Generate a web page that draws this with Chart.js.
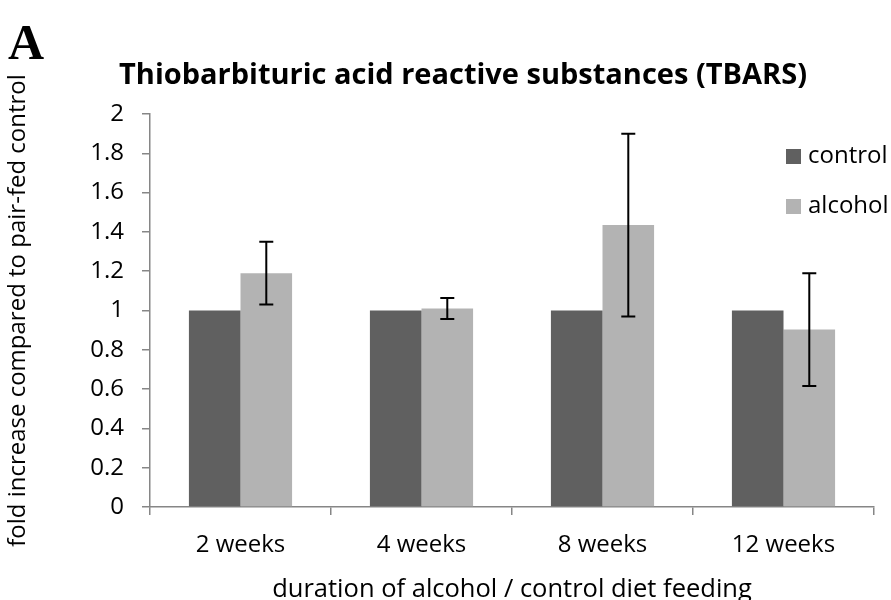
<!DOCTYPE html>
<html>
<head>
<meta charset="utf-8">
<script src="https://cdn.jsdelivr.net/npm/chart.js@4.4.0/dist/chart.umd.min.js"></script>
<style>
  html, body { margin: 0; padding: 0; background: #ffffff; }
  #wrap { width: 891px; height: 600px; position: relative; }
</style>
</head>
<body>
<div id="wrap"><canvas id="c" width="891" height="600"></canvas></div>
<script>
const categories = ['2 weeks', '4 weeks', '8 weeks', '12 weeks'];
const controlValues = [1, 1, 1, 1];
const alcoholValues = [1.19, 1.01, 1.435, 0.903];
const alcoholErrors = [0.16, 0.053, 0.465, 0.287];
const yTickLabels = ['0', '0.2', '0.4', '0.6', '0.8', '1', '1.2', '1.4', '1.6', '1.8', '2'];
const seriesNames = ['control', 'alcohol'];
const seriesColors = ['#606060', '#b3b3b3'];

const FONT = "'Open Sans', 'DejaVu Sans', sans-serif";
const AXIS_COLOR = '#868686';

const errorBarPlugin = {
  id: 'errorBars',
  afterDatasetsDraw(chart) {
    const ctx = chart.ctx;
    const meta = chart.getDatasetMeta(1);
    const ys = chart.scales.y;
    ctx.save();
    ctx.strokeStyle = '#000000';
    ctx.lineWidth = 2;
    meta.data.forEach((bar, i) => {
      const v = alcoholValues[i], e = alcoholErrors[i];
      const yTop = ys.getPixelForValue(v + e);
      const yBot = ys.getPixelForValue(v - e);
      const x = bar.x;
      ctx.beginPath();
      ctx.moveTo(x, yTop); ctx.lineTo(x, yBot);
      ctx.moveTo(x - 7, yTop); ctx.lineTo(x + 7, yTop);
      ctx.moveTo(x - 7, yBot); ctx.lineTo(x + 7, yBot);
      ctx.stroke();
    });
    ctx.restore();
  }
};

const decorPlugin = {
  id: 'decor',
  afterDraw(chart) {
    const ctx = chart.ctx;
    ctx.save();
    // panel letter
    ctx.fillStyle = '#000';
    ctx.font = "bold 50px 'Liberation Serif', 'DejaVu Serif', serif";
    ctx.textBaseline = 'alphabetic';
    ctx.textAlign = 'left';
    ctx.fillText('A', 8, 59);
    // title
    ctx.font = "bold 29px " + FONT;
    ctx.textAlign = 'center';
    ctx.fillText('Thiobarbituric acid reactive substances (TBARS)', 463, 84);
    // legend
    ctx.font = "24px " + FONT;
    ctx.textAlign = 'left';
    ctx.textBaseline = 'middle';
    const ly = [156, 206];
    seriesNames.forEach((n, i) => {
      ctx.fillStyle = seriesColors[i];
      ctx.fillRect(786, ly[i] - 7, 15, 15);
      ctx.fillStyle = '#000';
      ctx.fillText(n, 808, ly[i]);
    });
    ctx.restore();
  }
};

new Chart(document.getElementById('c'), {
  type: 'bar',
  data: {
    labels: categories,
    datasets: [
      { label: seriesNames[0], data: controlValues, backgroundColor: seriesColors[0] },
      { label: seriesNames[1], data: alcoholValues, backgroundColor: seriesColors[1] }
    ]
  },
  options: {
    responsive: false,
    animation: false,
    devicePixelRatio: 1,
    layout: { padding: { top: 114, right: 17, left: 0, bottom: 0 } },
    datasets: { bar: { categoryPercentage: 0.57, barPercentage: 1.0 } },
    plugins: {
      legend: { display: false },
      title: { display: false },
      tooltip: { enabled: false }
    },
    scales: {
      x: {
        offset: true,
        grid: { display: true, offset: true, drawOnChartArea: false, drawTicks: true, tickLength: 8, color: AXIS_COLOR, lineWidth: 1.5 },
        border: { display: true, color: AXIS_COLOR, width: 1.5 },
        ticks: { color: '#000', font: { family: FONT, size: 24 }, padding: 16 },
        title: { display: true, text: 'duration of alcohol / control diet feeding', color: '#000', font: { family: FONT, size: 25.5 }, padding: { top: 0, bottom: -5 } },
        afterFit(s) { s.height = 93; }
      },
      y: {
        min: 0, max: 2,
        ticks: {
          stepSize: 0.2, color: '#000', font: { family: FONT, size: 24 }, padding: 18,
          callback: (v, i) => yTickLabels[i]
        },
        grid: { display: true, drawOnChartArea: false, drawTicks: true, tickLength: 8, color: AXIS_COLOR, lineWidth: 1.5 },
        border: { display: true, color: AXIS_COLOR, width: 1.5 },
        title: { display: true, text: 'fold increase compared to pair-fed control', color: '#000', font: { family: FONT, size: 24 }, padding: { top: 4, bottom: 0 } },
        afterFit(s) { s.width = 150; }
      }
    }
  },
  plugins: [errorBarPlugin, decorPlugin]
});
</script>
</body>
</html>
